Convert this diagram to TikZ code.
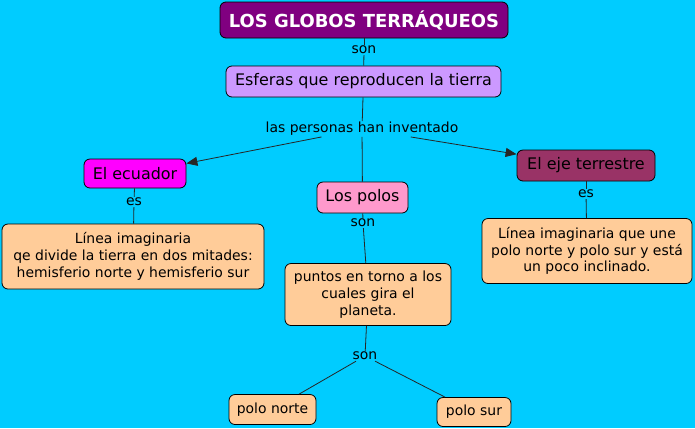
\documentclass[tikz,border=0pt]{standalone}
\usepackage{fontspec}
\setmainfont{DejaVu Sans}
\usetikzlibrary{shapes,arrows,arrows.meta}
\definecolor{fondo}{HTML}{00CCFF}
\definecolor{morado}{HTML}{800080}
\definecolor{lila}{HTML}{CC99FF}
\definecolor{fucsia}{HTML}{FF00FF}
\definecolor{rosa}{HTML}{FF99CC}
\definecolor{granate}{HTML}{993366}
\definecolor{durazno}{HTML}{FFCC99}
\tikzset{
  concepto/.style = {draw, rounded corners=6bp, line width=0.8bp, font=\fontsize{16}{19}\selectfont, inner sep=0pt},
  definicion/.style = {concepto, fill=durazno, align=center, font=\fontsize{14}{16.8}\selectfont},
  enlace/.style   = {fill=fondo, font=\fontsize{14}{16}\selectfont, inner sep=1bp},
  linea/.style    = {line width=0.8bp, draw=black!85}
}
\begin{document}
\begin{tikzpicture}[x=1bp, y=-1bp, >={Triangle[length=11bp, width=9bp]}]

% Fondo
\fill[fondo] (0,0) rectangle (695,428);

% Conceptos
\node [concepto, fill=morado, text=white, minimum width=288bp, minimum height=36bp, font=\fontsize{18}{21}\selectfont\bfseries] (globos) at (364,20) {LOS GLOBOS TERRÁQUEOS};
\node [concepto, fill=lila, minimum width=275bp, minimum height=31bp] (esferas) at (363.5,81.5) {Esferas que reproducen la tierra};
\node [concepto, fill=fucsia, minimum width=102bp, minimum height=29bp] (ecuador) at (135,173.5) {El ecuador};
\node [concepto, fill=rosa, minimum width=91bp, minimum height=31bp] (polos) at (362.5,197.5) {Los polos};
\node [concepto, fill=granate, minimum width=138bp, minimum height=31bp] (eje) at (586,165.5) {El eje terrestre};
\node [definicion, minimum width=262bp, minimum height=65bp] (ecdef) at (133,256.5) {Línea imaginaria\\qe divide la tierra en dos mitades:\\ hemisferio norte y hemisferio sur};
\node [definicion, minimum width=166bp, minimum height=62bp] (puntos) at (368,294.5) {puntos en torno a los\\cuales gira el\\planeta.};
\node [definicion, minimum width=210bp, minimum height=65bp] (ejedef) at (587,251) {Línea imaginaria que une\\polo norte y polo sur y está\\un poco inclinado.};
\node [definicion, minimum width=87bp, minimum height=30bp] (norte) at (272.5,409.5) {polo norte};
\node [definicion, minimum width=74bp, minimum height=29bp] (sur) at (474,412) {polo sur};

% Frases de enlace
\node [enlace] (son1) at (364,50) {son};
\node [enlace] (inventado) at (362,129) {las personas han inventado};
\node [enlace] (es1) at (134,202) {es};
\node [enlace] (son2) at (363,223) {son};
\node [enlace] (es2) at (586,194) {es};
\node [enlace] (son3) at (365,356) {son};

% Conexiones
\draw[linea] (globos) -- (son1);
\draw[linea] (son1) -- (esferas);
\draw[linea] (esferas) -- (inventado);
\draw[linea] (inventado) -- (polos);
\draw[linea, ->] (inventado) -- (ecuador);
\draw[linea, ->] (inventado) -- (eje);
\draw[linea] (ecuador) -- (es1);
\draw[linea] (es1) -- (ecdef);
\draw[linea] (polos) -- (son2);
\draw[linea] (son2) -- (puntos);
\draw[linea] (eje) -- (es2);
\draw[linea] (es2) -- (ejedef);
\draw[linea] (puntos) -- (son3);
\draw[linea] (son3) -- (norte);
\draw[linea] (son3) -- (sur);

\end{tikzpicture}
\end{document}
